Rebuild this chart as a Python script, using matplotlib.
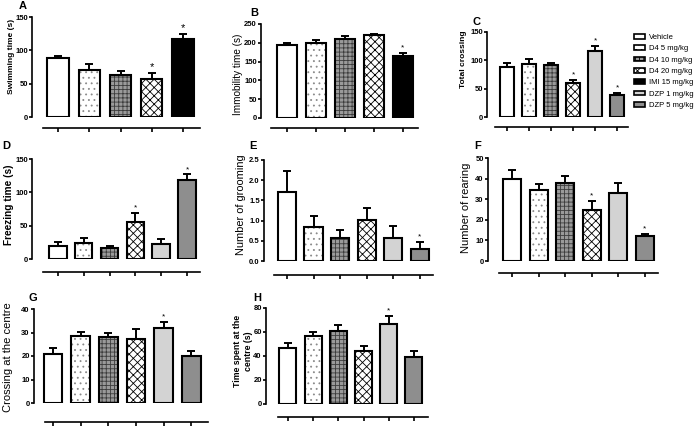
import numpy as np
import matplotlib
matplotlib.use("Agg")
import matplotlib.pyplot as plt
from matplotlib.patches import Patch

plt.rcParams["font.family"] = ["Liberation Sans", "DejaVu Sans"]
plt.rcParams["hatch.linewidth"] = 0.6

# ── data ─────────────────────────────────────────────────────────────────────
groups_ab = ["Vehicle", "D4 5 mg/kg", "D4 10 mg/kg", "D4 20 mg/kg", "IMI 15 mg/kg"]
groups_ch = ["Vehicle", "D4 5 mg/kg", "D4 10 mg/kg", "D4 20 mg/kg", "DZP 1 mg/kg", "DZP 5 mg/kg"]

swim_mean = [89, 71, 63, 57, 117]
swim_sem = [3, 8, 6, 9, 7]
swim_sig = [0, 0, 0, 1, 1]

immob_mean = [195, 199, 210, 220, 166]
immob_sem = [5, 9, 7, 4, 7]
immob_sig = [0, 0, 0, 0, 1]

cross_mean = [89, 93, 91, 60, 116, 38]
cross_sem = [6, 10, 4, 6, 10, 5]
cross_sig = [0, 0, 0, 1, 1, 1]

freeze_mean = [20, 24, 16, 56, 22, 119]
freeze_sem = [5, 7, 4, 13, 8, 8]
freeze_sig = [0, 0, 0, 1, 0, 1]

groom_mean = [1.72, 0.85, 0.57, 1.01, 0.57, 0.29]
groom_sem = [0.52, 0.27, 0.20, 0.29, 0.29, 0.18]
groom_sig = [0, 0, 0, 0, 0, 1]

rear_mean = [40, 34.5, 38, 25, 33, 12]
rear_sem = [4.3, 3, 3.2, 4, 5, 1]
rear_sig = [0, 0, 0, 1, 0, 1]

centre_cross_mean = [20.8, 28.3, 28, 27.3, 32, 20.1]
centre_cross_sem = [2.8, 2.1, 2, 4.3, 2.6, 2.2]
centre_cross_sig = [0, 0, 0, 0, 1, 0]

centre_time_mean = [46.5, 56.8, 61, 44.3, 67, 39]
centre_time_sem = [4, 3.6, 5, 4.2, 6.4, 5]
centre_time_sig = [0, 0, 0, 0, 1, 0]

# group styles: (facecolor, hatch, hatch colour)
STYLE = {
    "Vehicle": ("white", None, None),
    "D4 5 mg/kg": ("white", "...", "#8a8a8a"),
    "D4 10 mg/kg": ("#9a9a9a", "++++", "#3c3c3c"),
    "D4 20 mg/kg": ("white", "xxxx", "black"),
    "IMI 15 mg/kg": ("black", None, None),
    "DZP 1 mg/kg": ("#d3d3d3", None, None),
    "DZP 5 mg/kg": ("#8e8e8e", None, None),
}

W, H = 700, 429
fig = plt.figure(figsize=(7, 4.29), dpi=100)


def px_axes(yaxis_x, y0, ytop, xright):
    return fig.add_axes([yaxis_x / W, 1 - y0 / H, (xright - yaxis_x) / W, (y0 - ytop) / H])


def panel(box, groups, mean, sem, sig, ylim, yticks, xlim, xbound, drop,
          letter, lpos, ylabel, ypos, ykw, fmt=None, star_fs=6):
    ax = px_axes(*box)
    x = np.arange(len(groups))
    for xi, g, m in zip(x, groups, mean):
        fc, hatch, hc = STYLE[g]
        ax.bar(xi, m, width=0.68, color=fc, hatch=hatch, edgecolor=hc or fc,
               linewidth=0, zorder=2)
        ax.bar(xi, m, width=0.68, fill=False, edgecolor="black", linewidth=1.5, zorder=3)
    ax.errorbar(x, mean, yerr=[np.zeros(len(sem)), sem], fmt="none", ecolor="black",
                elinewidth=1.4, capsize=3.2, capthick=1.4, zorder=1)
    for xi, m, s, f in zip(x, mean, sem, sig):
        if f:
            ax.annotate("*", (xi, m + s), xytext=(0, 1), textcoords="offset points",
                        ha="center", va="bottom", fontsize=star_fs)
    ax.set_ylim(*ylim)
    ax.set_xlim(*xlim)
    ax.set_yticks(yticks)
    if fmt:
        ax.set_yticklabels([fmt % t for t in yticks])
    ax.set_xticks(x)
    ax.set_xticklabels([])
    for s in ["top", "right"]:
        ax.spines[s].set_visible(False)
    ax.spines["left"].set_linewidth(1.2)
    ax.spines["bottom"].set_linewidth(1.2)
    ax.spines["bottom"].set_position(("outward", drop * 0.72))
    ax.spines["bottom"].set_bounds(xbound, xlim[1])
    ax.tick_params(axis="y", length=2.5, width=1.2, pad=0.5, labelsize=5.5)
    ax.tick_params(axis="x", length=3, width=1.2)
    for t in ax.get_yticklabels():
        t.set_fontweight("bold")
    ax.patch.set_visible(False)
    fig.text(lpos[0] / W, 1 - lpos[1] / H, letter, fontsize=8, fontweight="bold",
             ha="center", va="center")
    fig.text(ypos[0] / W, 1 - ypos[1] / H, ylabel, rotation=90, ha="center",
             va="center", **ykw)
    return ax


panel((32, 117, 17, 200), groups_ab, swim_mean, swim_sem, swim_sig, (0, 150),
      [0, 50, 100, 150], (-0.83, 4.54), -0.48, 11, "A", (23, 6),
      "Swimming time (s)", (12, 56), dict(fontsize=6, fontweight="bold"), star_fs=8)
panel((261, 118, 24, 418), groups_ab, immob_mean, immob_sem, immob_sig, (0, 250),
      [0, 50, 100, 150, 200, 250], (-0.9, 4.52), -0.55, 10, "B", (254, 13),
      "Immobility time (s)", (238, 74), dict(fontsize=7.2))
panel((487, 117, 32, 628), groups_ch, cross_mean, cross_sem, cross_sig, (0, 150),
      [0, 50, 100, 150], (-0.91, 5.5), -0.55, 10, "C", (477, 22),
      "Total crossing", (463, 59), dict(fontsize=6, fontweight="bold"))
panel((32, 259, 159, 200), groups_ch, freeze_mean, freeze_sem, freeze_sig, (0, 150),
      [0, 50, 100, 150], (-1.0, 5.5), -0.58, 13, "D", (6, 146),
      "Freezing time (s)", (9, 205), dict(fontsize=7.3, fontweight="bold"))
panel((264, 261, 160, 433), groups_ch, groom_mean, groom_sem, groom_sig, (0, 2.5),
      [0, 0.5, 1.0, 1.5, 2.0, 2.5], (-0.86, 5.49), -0.49, 14, "E", (253, 146),
      "Number of grooming", (241, 205), dict(fontsize=7.9), fmt="%.1f")
panel((488, 261, 158, 658), groups_ch, rear_mean, rear_sem, rear_sig, (0, 50),
      [0, 10, 20, 30, 40, 50], (-0.9, 5.49), -0.49, 12, "F", (478, 146),
      "Number of rearing", (466, 208), dict(fontsize=8))
panel((34, 403, 309, 208), groups_ch, centre_cross_mean, centre_cross_sem,
      centre_cross_sig, (0, 40), [0, 10, 20, 30, 40], (-0.69, 5.6), -0.29, 19,
      "G", (33, 298), "Crossing at the centre", (8, 357), dict(fontsize=8))
panel((266, 404, 308, 428), groups_ch, centre_time_mean, centre_time_sem,
      centre_time_sig, (0, 80), [0, 20, 40, 60, 80], (-0.87, 5.56), -0.4, 13,
      "H", (257, 298), "Time spent at the\ncentre (s)", (243, 351),
      dict(fontsize=6.3, fontweight="bold"))

# legend
all_groups = groups_ab + groups_ch[4:]
handles = []
for g in all_groups:
    fc, hatch, hc = STYLE[g]
    handles.append(Patch(facecolor=fc, hatch=hatch, edgecolor="black", linewidth=1.2))
fig.legend(handles, all_groups, loc="upper left", bbox_to_anchor=(634 / W, 1 - 34 / H),
           frameon=False, fontsize=5.5, handlelength=1.5, handleheight=0.6,
           handletextpad=0.5, labelspacing=0.55, borderpad=0, borderaxespad=0)

fig.savefig("out.png", dpi=100)
